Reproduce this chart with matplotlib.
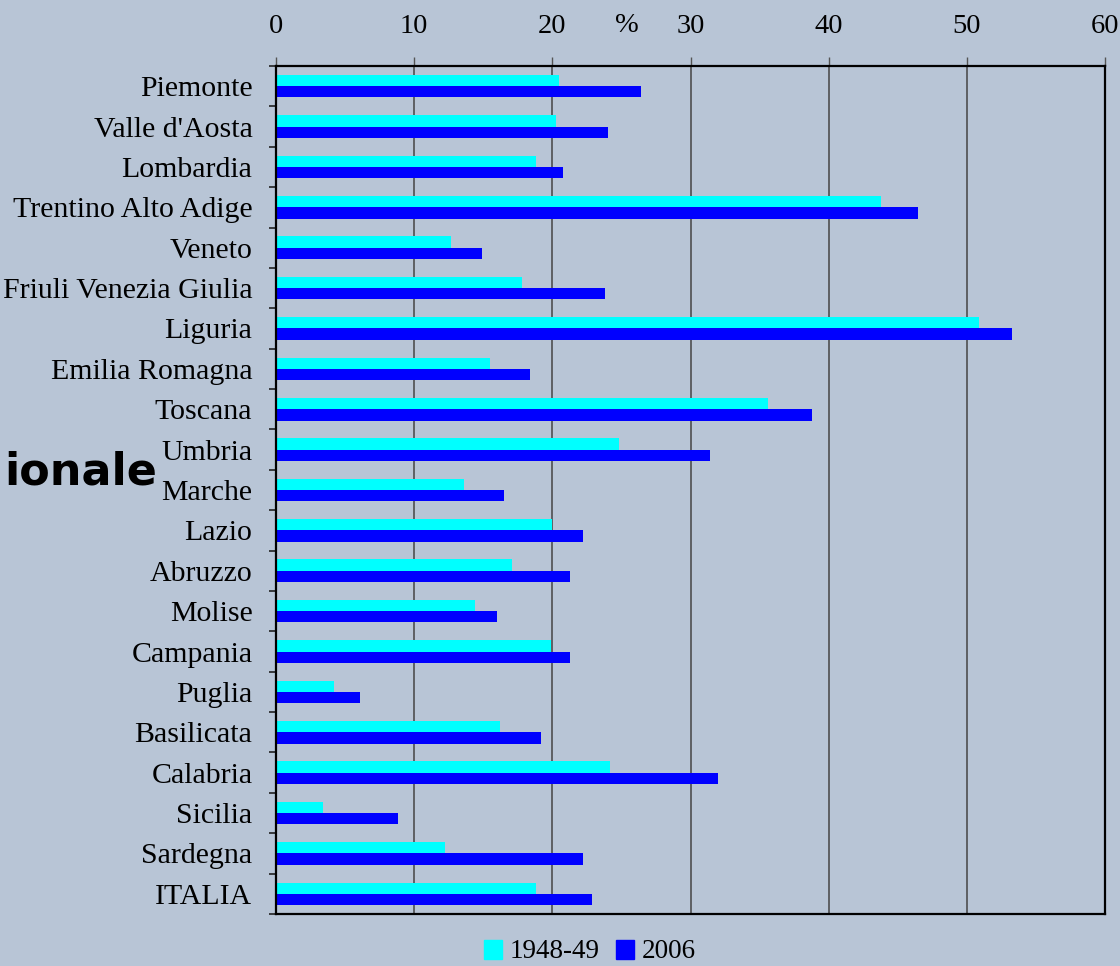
#! /usr/bin/env python3
# -*- coding: utf-8 -*-

import numpy as np
import matplotlib
matplotlib.use('Agg')
import matplotlib.pyplot as plt
from matplotlib.patches import Patch
from matplotlib.ticker import FixedLocator

regions = ['Piemonte', "Valle d'Aosta", 'Lombardia', 'Trentino Alto Adige', 'Veneto',
           'Friuli Venezia Giulia', 'Liguria', 'Emilia Romagna', 'Toscana', 'Umbria',
           'Marche', 'Lazio', 'Abruzzo', 'Molise', 'Campania', 'Puglia', 'Basilicata',
           'Calabria', 'Sicilia', 'Sardegna', 'ITALIA']
val_1948 = [20.5, 20.3, 18.8, 43.8, 12.7, 17.8, 50.9, 15.5, 35.6, 24.8, 13.6,
            20.0, 17.1, 14.4, 19.9, 4.2, 16.2, 24.2, 3.4, 12.2, 18.8]
val_2006 = [26.4, 24.0, 20.8, 46.5, 14.9, 23.8, 53.3, 18.4, 38.8, 31.4, 16.5,
            22.2, 21.3, 16.0, 21.3, 6.1, 19.2, 32.0, 8.8, 22.2, 22.9]
series_names = ['1948-49', '2006']
xticks = [0, 10, 20, 30, 40, 50, 60]

BG = '#b8c5d6'
SERIF = 'Liberation Serif'


def main():
    fig = plt.figure(figsize=(11.2, 9.66), dpi=100, facecolor=BG)
    ax = fig.add_axes([276 / 1120, 1 - 914 / 966, (1105 - 276) / 1120, (914 - 66) / 966])
    ax.set_facecolor(BG)

    n = len(regions)
    y = np.arange(n)
    h = 0.28
    ax.barh(y - h / 2, val_1948, height=h, color='#00ffff', zorder=3)
    ax.barh(y + h / 2, val_2006, height=h, color='#0000ff', zorder=3)

    ax.set_xlim(0, 60)
    ax.set_ylim(n - 0.5, -0.5)

    # x axis on top
    ax.xaxis.tick_top()
    ax.set_xticks(xticks)
    ax.set_xticklabels([str(t) for t in xticks], fontfamily=SERIF, fontsize=20.5)
    ax.tick_params(axis='x', direction='out', length=6.5, width=1, color='#555555', pad=13)
    ax.grid(axis='x', color='#444444', lw=1.1, zorder=1)

    # y labels at centres, tick marks at boundaries
    ax.set_yticks(y)
    ax.set_yticklabels(regions, fontfamily=SERIF, fontsize=21.5)
    ax.tick_params(axis='y', which='major', length=0, pad=17)
    ax.yaxis.set_minor_locator(FixedLocator(np.arange(n + 1) - 0.5))
    ax.tick_params(axis='y', which='minor', direction='out', length=5, width=1.2, color='#222222')

    for s in ax.spines.values():
        s.set_linewidth(1.6)
        s.set_color('black')
        s.set_zorder(4)

    fig.text(627 / 1120, 1 - 26 / 966, '%', ha='center', va='center',
             fontfamily=SERIF, fontsize=20.5)
    fig.text(157 / 1120, 1 - 472 / 966, 'ionale', ha='right', va='center',
             fontfamily='DejaVu Sans', fontweight='bold', fontsize=32)

    handles = [Patch(color='#00ffff', label=series_names[0]),
               Patch(color='#0000ff', label=series_names[1])]
    fig.legend(handles=handles, loc='center', bbox_to_anchor=(590 / 1120, 1 - 952 / 966),
               ncol=2, frameon=False, prop={'family': SERIF, 'size': 19.5},
               handlelength=0.65, handleheight=0.7, handletextpad=0.3, columnspacing=0.6,
               borderpad=0)

    fig.savefig('out.png', dpi=100, facecolor=BG)
    plt.close(fig)


if __name__ == '__main__':
    main()
